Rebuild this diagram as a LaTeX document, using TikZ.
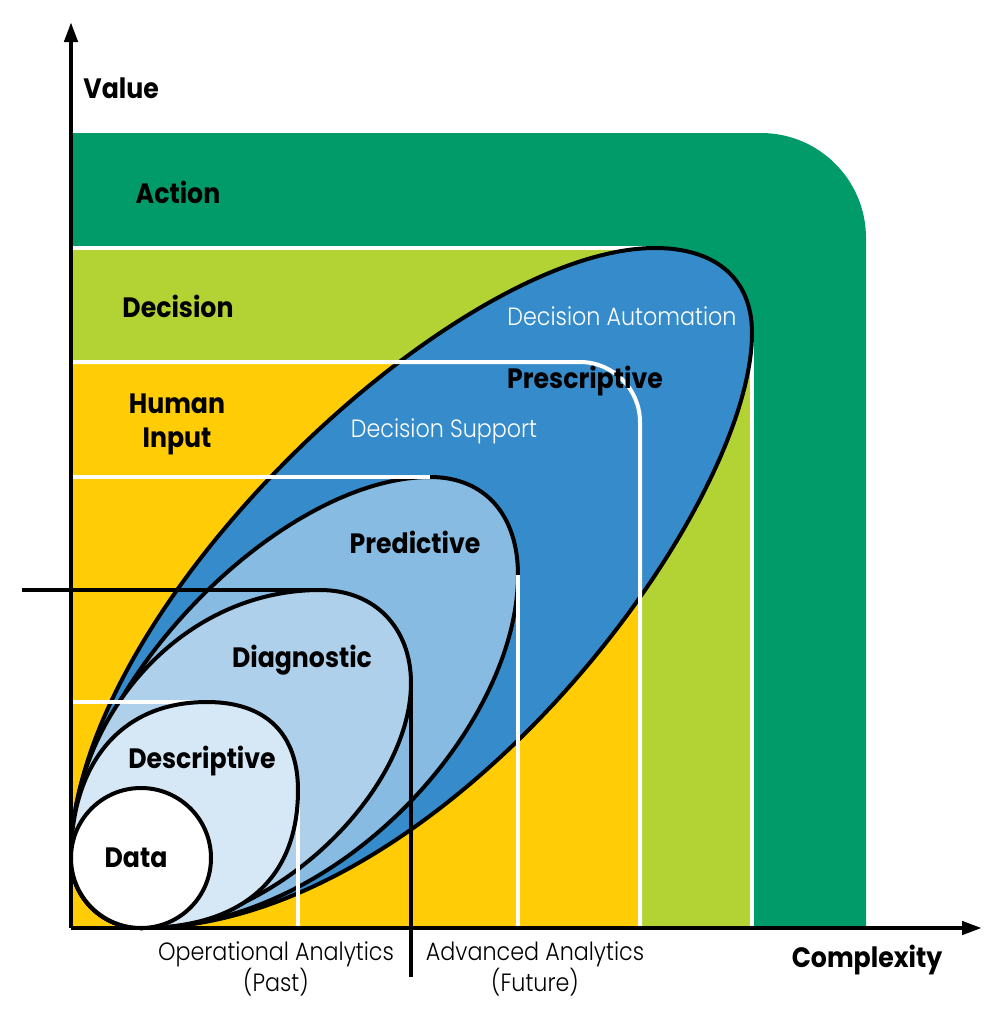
\documentclass[tikz,border=0pt]{standalone}
\usepackage{fontspec}
\setmainfont{Poppins}[FakeStretch=0.9]
\newfontfamily\thinfont{Poppins}[UprightFont=* Light, FakeStretch=0.89]
\usetikzlibrary{arrows.meta}
\definecolor{actiongreen}{RGB}{0,155,105}
\definecolor{decisiongreen}{RGB}{179,211,53}
\definecolor{inputyellow}{RGB}{255,204,5}
\definecolor{autoblue}{RGB}{54,140,203}
\definecolor{predblue}{RGB}{135,187,226}
\definecolor{diagblue}{RGB}{175,208,234}
\definecolor{descblue}{RGB}{214,232,246}
\tikzset{
  bandline/.style={white, line width=2pt},
  zone/.style={draw=black, line width=2pt, line join=round},
  splitline/.style={black, line width=2pt},
  axis/.style={line width=2.2pt, -{Triangle[length=10pt,width=6.5pt]}},
  bandname/.style={font=\fontsize{14}{17}\selectfont\bfseries, inner sep=0pt},
  softname/.style={font=\fontsize{12.5}{12.5}\selectfont\thinfont, inner sep=0pt},
}
\begin{document}
\begin{tikzpicture}[x=0.5pt,y=-0.5pt]
\useasboundingbox (0,0) rectangle (1000,1014);
\coordinate (O) at (71,928);
% bands
\fill[actiongreen] (O) -- (71,133) -- (761,133) .. controls (819,133) and (866,180) .. (866,238) -- (866,928) -- cycle;
\fill[decisiongreen] (O) -- (71,248) -- (655,248) .. controls (715,248) and (752,278) .. (752,333) -- (752,928) -- cycle;
\draw[bandline] (71,248) -- (655,248);
\draw[bandline] (752,333) -- (752,928);
\fill[inputyellow] (O) -- (71,362) -- (580,362) .. controls (613,362) and (640,389) .. (640,422) -- (640,928) -- cycle;
% zones
\draw[zone, fill=autoblue] (71,858) .. controls (71,608) and (455,248) .. (655,248)
  .. controls (715,248) and (752,278) .. (752,333) .. controls (752,513) and (441,928) .. (141,928)
  .. controls (102,928) and (71,897) .. (71,858) -- cycle;
\draw[zone, fill=predblue] (71,858) .. controls (71,688) and (280,477) .. (430,477)
  .. controls (485,477) and (518,515) .. (518,575) .. controls (518,725) and (341,928) .. (141,928)
  .. controls (102,928) and (71,897) .. (71,858) -- cycle;
\draw[zone, fill=diagblue] (71,858) .. controls (71,718) and (180,590) .. (320,590)
  .. controls (375,590) and (411,628) .. (411,683) .. controls (411,793) and (271,928) .. (141,928)
  .. controls (102,928) and (71,897) .. (71,858) -- cycle;
% white limits
\draw[bandline] (71,362) -- (580,362) .. controls (613,362) and (640,389) .. (640,422) -- (640,928);
\draw[bandline] (71,477) -- (430,477);
\draw[bandline] (518,575) -- (518,928);
\draw[bandline] (71,702) -- (207,702);
\draw[bandline] (298,790) -- (298,928);
% past / future
\draw[splitline] (22,590) -- (320,590);
\draw[splitline] (411,683) -- (411,977);
\draw[zone, fill=descblue] (71,858) .. controls (71,768) and (117,702) .. (207,702)
  .. controls (267,702) and (298,735) .. (298,790) .. controls (298,880) and (241,928) .. (141,928)
  .. controls (102,928) and (71,897) .. (71,858) -- cycle;
\draw[zone, fill=white] (141,858) circle[radius=70];
% axes
\draw[axis] (O) -- (71,22);
\draw[axis] (O) -- (982,928);
% texts
\node[bandname, anchor=base west] (value) at (83,98) {Value};
\node[bandname, anchor=base] (action) at (178,203) {Action};
\node[bandname, anchor=base] (decision) at (178,317) {Decision};
\node[bandname, align=center] (input) at (177,424) {Human\\Input};
\node[softname, white, anchor=base] (automation) at (622,325) {Decision Automation};
\node[bandname, anchor=base] (prescriptive) at (585,388) {Prescriptive};
\node[softname, white, anchor=base] (support) at (444,437) {Decision Support};
\node[bandname, anchor=base] (predictive) at (415,553) {Predictive};
\node[bandname, anchor=base] (diagnostic) at (302,667) {Diagnostic};
\node[bandname, anchor=base] (descriptive) at (202,768) {Descriptive};
\node[bandname, anchor=base] (data) at (136,867) {Data};
\node[softname, align=center] (past) at (276,969) {Operational Analytics\\(Past)};
\node[softname, align=center] (future) at (535,969) {Advanced Analytics\\(Future)};
\node[bandname, anchor=base] (complexity) at (867,967) {Complexity};
\end{tikzpicture}
\end{document}
